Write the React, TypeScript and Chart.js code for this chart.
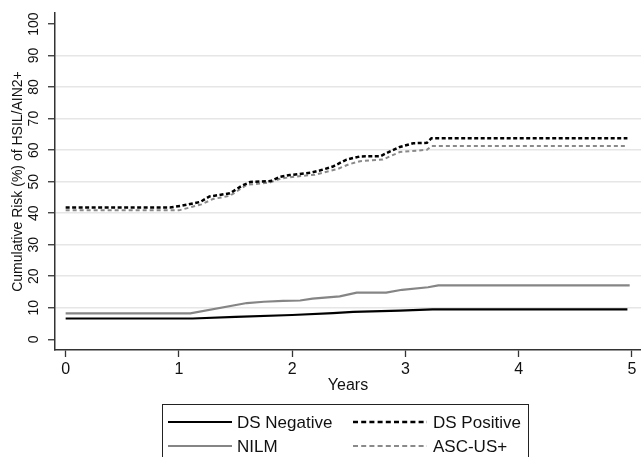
import React, { useEffect, useRef } from "react";
import { Chart, registerables } from "chart.js";

Chart.register(...registerables);

// ---- data (years, cumulative risk %) ----
const dsNegYears = [0, 1.12, 1.5, 2.0, 2.36, 2.54, 2.95, 3.24, 4.96];
const dsNegRisk = [6.6, 6.6, 7.1, 7.7, 8.3, 8.7, 9.1, 9.5, 9.5];

const nilmYears = [0, 1.1, 1.6, 1.75, 1.92, 2.07, 2.18, 2.42, 2.57, 2.83, 2.97, 3.2, 3.29, 4.98];
const nilmRisk = [8.2, 8.2, 11.5, 11.9, 12.2, 12.3, 12.9, 13.6, 14.8, 14.8, 15.7, 16.5, 17.1, 17.1];

const dsPosYears = [0, 0.92, 1.03, 1.19, 1.27, 1.45, 1.56, 1.63, 1.81, 1.89, 1.98, 2.16, 2.25, 2.36, 2.48, 2.6, 2.78, 2.83, 2.95, 3.07, 3.19, 3.23, 4.96];
const dsPosRisk = [41.8, 41.8, 42.4, 43.6, 45.3, 46.3, 48.8, 49.9, 50.2, 51.5, 52.1, 52.8, 53.6, 54.8, 57.0, 58.0, 58.1, 59.0, 61.0, 62.2, 62.3, 63.8, 63.8];

const ascYears = [0, 1.0, 1.2, 1.3, 1.45, 1.6, 1.8, 1.9, 2.0, 2.2, 2.4, 2.5, 2.6, 2.8, 2.95, 3.19, 3.23, 4.96];
const ascRisk = [40.9, 40.9, 42.8, 44.5, 45.5, 49.0, 49.7, 51.0, 51.5, 52.2, 54.0, 55.5, 56.5, 57.0, 59.4, 60.1, 61.3, 61.3];

const xTicks = [0, 1, 2, 3, 4, 5];
const yTicks = [0, 10, 20, 30, 40, 50, 60, 70, 80, 90, 100];

const seriesLabels = ["DS Negative", "DS Positive", "NILM", "ASC-US+"];
const xTitle = "Years";
const yTitle = "Cumulative Risk (%) of HSIL/AIN2+";

const FONT = "'Liberation Sans', Arial, Helvetica, sans-serif";

const toPts = (xs: number[], ys: number[]) => xs.map((x, i) => ({ x, y: ys[i] }));

const legendPlugin = {
  id: "boxLegend",
  afterDraw(chart: any) {
    const ctx = chart.ctx as CanvasRenderingContext2D;
    const ds = chart.data.datasets;
    ctx.save();
    // box
    ctx.strokeStyle = "#222";
    ctx.lineWidth = 1;
    ctx.strokeRect(162.5, 404.5, 366, 60);
    const rows = [422, 446];
    const cols = [
      { x0: 168, x1: 232, tx: 237 },
      { x0: 353, x1: 427, tx: 433 },
    ];
    const order = [0, 1, 2, 3]; // dataset indices by legend slot
    order.forEach((di, slot) => {
      const d = ds[di];
      const r = Math.floor(slot / 2);
      const c = cols[slot % 2];
      const y = rows[r];
      ctx.beginPath();
      ctx.strokeStyle = d.borderColor;
      ctx.lineWidth = d.borderWidth;
      ctx.setLineDash(d.borderDash && d.borderDash.length ? [5, 3.2] : []);
      ctx.moveTo(c.x0, y);
      ctx.lineTo(c.x1, y);
      ctx.stroke();
      ctx.setLineDash([]);
      ctx.fillStyle = "#111";
      ctx.font = `17px ${FONT}`;
      ctx.textBaseline = "middle";
      ctx.textAlign = "left";
      ctx.fillText(d.label, c.tx, y + 1);
    });
    ctx.restore();
  },
};

export default function App() {
  const ref = useRef<HTMLCanvasElement | null>(null);
  useEffect(() => {
    if (!ref.current) return;
    const chart = new Chart(ref.current, {
      type: "line",
      data: {
        datasets: [
          {
            label: seriesLabels[0],
            data: toPts(dsNegYears, dsNegRisk),
            borderColor: "#000000",
            borderWidth: 2.2,
            borderDash: [],
            pointRadius: 0,
            tension: 0,
          },
          {
            label: seriesLabels[1],
            data: toPts(dsPosYears, dsPosRisk),
            borderColor: "#000000",
            borderWidth: 2.5,
            borderDash: [4, 2.5],
            pointRadius: 0,
            tension: 0,
          },
          {
            label: seriesLabels[2],
            data: toPts(nilmYears, nilmRisk),
            borderColor: "#858585",
            borderWidth: 2.2,
            borderDash: [],
            pointRadius: 0,
            tension: 0,
          },
          {
            label: seriesLabels[3],
            data: toPts(ascYears, ascRisk),
            borderColor: "#8a8a8a",
            borderWidth: 2,
            borderDash: [4, 3],
            pointRadius: 0,
            tension: 0,
          },
        ],
      },
      options: {
        animation: false,
        responsive: false,
        devicePixelRatio: 1,
        layout: { padding: { top: 13, right: 0, left: 0, bottom: 62 } },
        plugins: {
          legend: { display: false },
          tooltip: { enabled: false },
        },
        scales: {
          x: {
            type: "linear",
            min: -0.094,
            max: 5.08,
            afterBuildTicks: (s: any) => {
              s.ticks = xTicks.map((v) => ({ value: v }));
            },
            afterFit: (s: any) => {
              s.height = 45;
            },
            grid: {
              drawOnChartArea: false,
              drawTicks: true,
              tickLength: 7,
              tickColor: "#333",
              tickWidth: 1.3,
            },
            border: { display: true, color: "#333", width: 1.5 },
            ticks: {
              color: "#111",
              font: { family: FONT, size: 16 },
              padding: 3,
              maxRotation: 0,
              callback: (v: any) => String(v),
            },
            title: {
              display: true,
              text: xTitle,
              color: "#111",
              font: { family: FONT, size: 16 },
              padding: { top: 0, bottom: 0 },
            },
          },
          y: {
            type: "linear",
            min: -3.4,
            max: 103.5,
            afterBuildTicks: (s: any) => {
              s.ticks = yTicks.map((v) => ({ value: v }));
            },
            afterFit: (s: any) => {
              s.width = 55;
            },
            grid: {
              color: (c: any) =>
                c.tick && (c.tick.value === 0 || c.tick.value === 100) ? "rgba(0,0,0,0)" : "#e6e6e6",
              lineWidth: 1.5,
              drawTicks: true,
              tickLength: 7,
              tickColor: "#333",
              tickWidth: 1.3,
            },
            border: { display: true, color: "#333", width: 1.5 },
            ticks: {
              color: "#111",
              font: { family: FONT, size: 14 },
              minRotation: 90,
              maxRotation: 90,
              crossAlign: "center",
              padding: 2,
              callback: (v: any) => String(v),
            },
            title: {
              display: true,
              text: yTitle,
              color: "#111",
              font: { family: FONT, size: 14 },
              padding: { top: 10, bottom: 0 },
            },
          },
        },
      },
      plugins: [legendPlugin],
    } as any);
    return () => chart.destroy();
  }, []);
  return (
    <div style={{ position: "absolute", left: 0, top: 0, width: 641, height: 457, background: "#fff" }}>
      <canvas ref={ref} width={641} height={457} style={{ display: "block", width: 641, height: 457 }} />
    </div>
  );
}
